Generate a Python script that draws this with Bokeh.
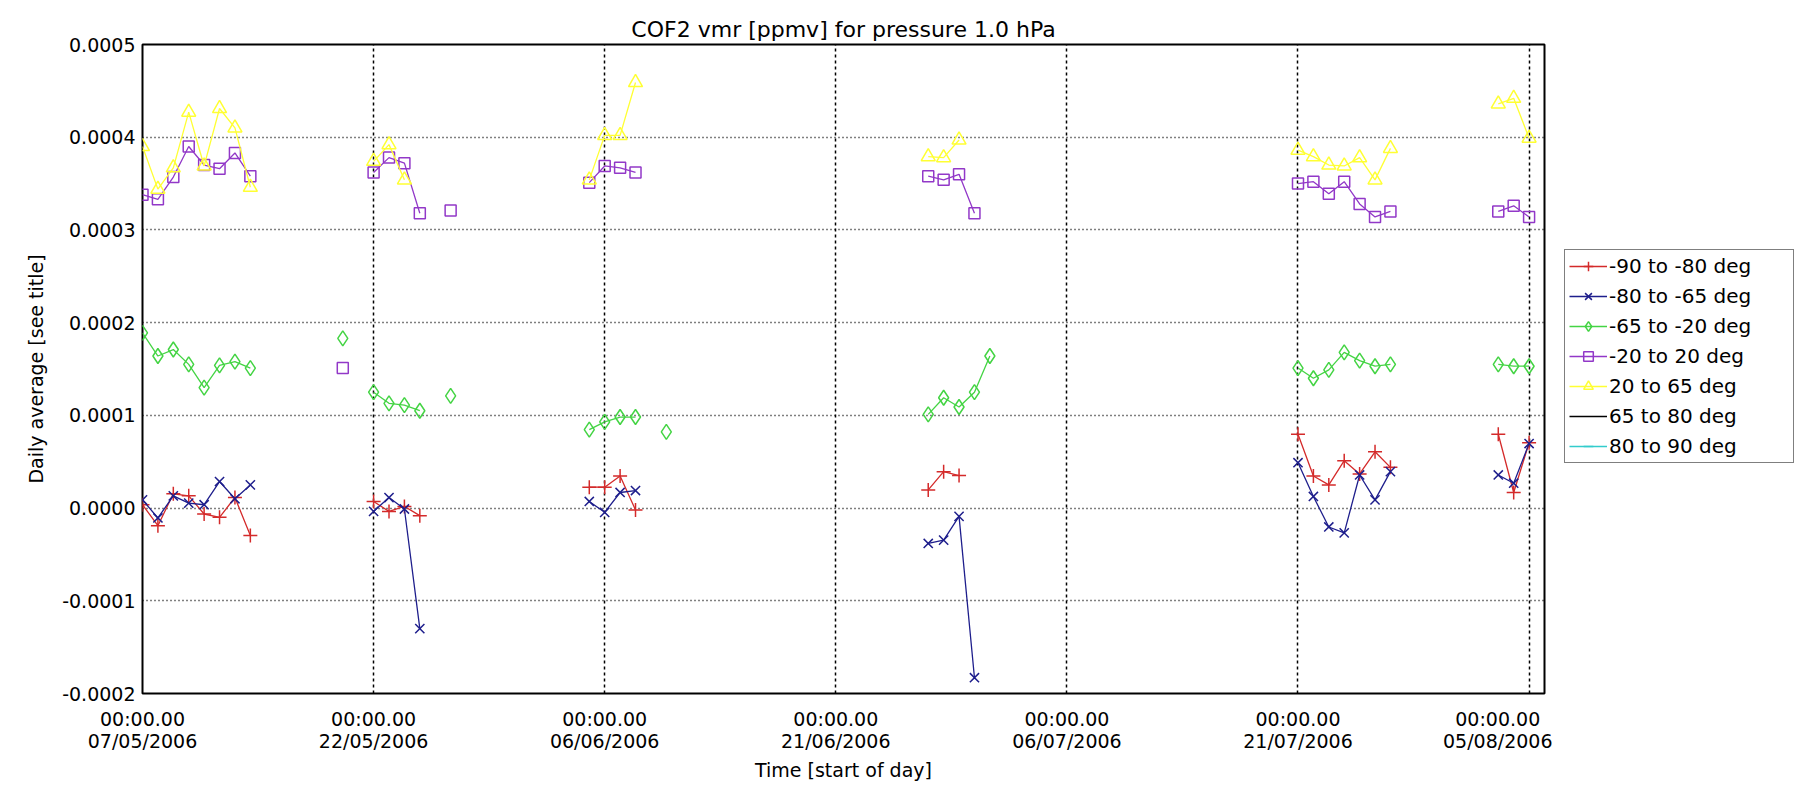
import math
import pandas as pd
from bokeh.plotting import figure
from bokeh.layouts import row
from bokeh.models import (FixedTicker, DatetimeTickFormatter, PrintfTickFormatter,
                          Legend, LegendItem, Range1d)
from bokeh.embed import file_html
from bokeh.resources import INLINE

# ---------------- data (day offsets from 07/05/2006, COF2 vmr in ppmv) ----------------
start_date = "2006-05-07"
tick_days = [0, 15, 30, 45, 60, 75, 90]
y_ticks = [-0.0002, -0.0001, 0.0, 0.0001, 0.0002, 0.0003, 0.0004, 0.0005]

red_days = [0, 1, 2, 3, 4, 5, 6, 7, 15, 16, 17, 18, 29, 30, 31, 32, 51, 52, 53,
            75, 76, 77, 78, 79, 80, 81, 88, 89, 90]
red_vals = [0.0000036, -0.000019, 0.0000154, 0.0000132, -0.0000064, -0.00001, 0.0000114, -0.0000296,
            0.0000071, -0.0000036, 0.0000018, -0.0000082,
            0.0000225, 0.0000225, 0.0000346, -0.000002,
            0.0000196, 0.0000393, 0.000035,
            0.0000796, 0.0000346, 0.000025, 0.0000511, 0.0000368, 0.0000607, 0.0000439,
            0.0000796, 0.0000168, 0.0000704]

blue_days = [0, 1, 2, 3, 4, 5, 6, 7, 15, 16, 17, 18, 29, 30, 31, 32, 51, 52, 53, 54,
             75, 76, 77, 78, 79, 80, 81, 88, 89, 90]
blue_vals = [0.0000089, -0.0000107, 0.0000132, 0.0000054, 0.0000036, 0.0000286, 0.00001, 0.000025,
             -0.0000036, 0.0000114, -0.000001, -0.00013,
             0.0000071, -0.0000046, 0.0000168, 0.0000189,
             -0.0000382, -0.0000346, -0.0000089, -0.000183,
             0.0000489, 0.0000125, -0.0000204, -0.0000268, 0.0000357, 0.0000089, 0.0000393,
             0.0000357, 0.0000268, 0.0000696]

green_days = [0, 1, 2, 3, 4, 5, 6, 7, 13, 15, 16, 17, 18, 20, 29, 30, 31, 32, 34,
              51, 52, 53, 54, 55, 75, 76, 77, 78, 79, 80, 81, 88, 89, 90]
green_vals = [0.000189, 0.000164, 0.000171, 0.000155, 0.00013, 0.000154, 0.000158, 0.000151,
              0.000183,
              0.000125, 0.000113, 0.000111, 0.000105,
              0.000121,
              0.0000846, 0.0000929, 0.0000982, 0.0000982,
              0.0000821,
              0.000101, 0.000119, 0.000109, 0.000125, 0.000164,
              0.000151, 0.00014, 0.000149, 0.000168, 0.000159, 0.000153, 0.000155,
              0.000155, 0.000153, 0.000153]

purple_days = [0, 1, 2, 3, 4, 5, 6, 7, 13, 15, 16, 17, 18, 20, 29, 30, 31, 32,
               51, 52, 53, 54, 75, 76, 77, 78, 79, 80, 81, 88, 89, 90]
purple_vals = [0.000338, 0.000333, 0.000357, 0.00039, 0.00037, 0.000366, 0.000383, 0.000358,
               0.000151,
               0.000362, 0.000378, 0.000372, 0.000318,
               0.000321,
               0.000351, 0.000369, 0.000367, 0.000362,
               0.000358, 0.000354, 0.00036, 0.000318,
               0.00035, 0.000352, 0.000339, 0.000352, 0.000328, 0.000314, 0.00032,
               0.00032, 0.000326, 0.000314]

yellow_days = [0, 1, 2, 3, 4, 5, 6, 7, 15, 16, 17, 29, 30, 31, 32, 51, 52, 53,
               75, 76, 77, 78, 79, 80, 81, 88, 89, 90]
yellow_vals = [0.00039, 0.000344, 0.000367, 0.000427, 0.000369, 0.000431, 0.00041, 0.000346,
               0.000374, 0.000392, 0.000354,
               0.000354, 0.000402, 0.000402, 0.000459,
               0.000379, 0.000378, 0.000397,
               0.000386, 0.000379, 0.00037, 0.000369, 0.000378, 0.000354, 0.000388,
               0.000436, 0.000442, 0.000399]

labels = ["-90 to -80 deg", "-80 to -65 deg", "-65 to -20 deg", "-20 to 20 deg",
          "20 to 65 deg", "65 to 80 deg", "80 to 90 deg"]

# ---------------- helpers ----------------
T0 = pd.Timestamp(start_date).value / 1e6  # ms
DAY = 86400000.0


def ms(d):
    return T0 + d * DAY


def broken(days, vals):
    xs, ys = [], []
    for i, (d, v) in enumerate(zip(days, vals)):
        if i > 0 and d - days[i - 1] > 1:
            xs.append(ms(d - 0.5))
            ys.append(math.nan)
        xs.append(ms(d))
        ys.append(v)
    return xs, ys


FONT = "DejaVu Sans"

p = figure(width=1552, height=783, x_axis_type="datetime",
           output_backend="svg", toolbar_location=None,
           x_range=Range1d(ms(0), ms(91)), y_range=Range1d(-0.0002, 0.0005),
           min_border_left=142, min_border_right=8, min_border_top=44, min_border_bottom=88,
           title="COF2 vmr [ppmv] for pressure 1.0 hPa")

p.title.align = "center"
p.title.text_font = FONT
p.title.text_font_size = "22px"
p.title.text_font_style = "normal"
p.title.text_color = "black"
p.title.standoff = 6

p.outline_line_color = "black"
p.outline_line_width = 2
p.background_fill_color = "white"
p.border_fill_color = "white"

xt = FixedTicker(ticks=[ms(d) for d in tick_days])
yt = FixedTicker(ticks=y_ticks)
p.xaxis.ticker = xt
p.yaxis.ticker = yt
fmt = "%H:%M.%S\n%d/%m/%Y"
p.xaxis.formatter = DatetimeTickFormatter(
    milliseconds=fmt, seconds=fmt, minsec=fmt, minutes=fmt, hourmin=fmt, hours=fmt,
    days=fmt, months=fmt, years=fmt)
p.yaxis.formatter = PrintfTickFormatter(format="%.4f")

for ax in (p.xaxis[0], p.yaxis[0]):
    ax.major_tick_in = 0
    ax.major_tick_out = 0
    ax.minor_tick_in = 0
    ax.minor_tick_out = 0
    ax.axis_line_color = None
    ax.major_label_text_font = FONT
    ax.major_label_text_font_size = "19px"
    ax.major_label_text_color = "black"
    ax.axis_label_text_font = FONT
    ax.axis_label_text_font_size = "19px"
    ax.axis_label_text_font_style = "normal"
    ax.axis_label_text_color = "black"

p.xaxis.major_label_standoff = 14
p.xaxis.major_label_text_line_height = 1.0
p.xaxis.axis_label = "Time [start of day]"
p.xaxis.axis_label_standoff = 4
p.yaxis.major_label_standoff = 7
p.yaxis.axis_label = "Daily average [see title]"
p.yaxis.axis_label_standoff = 12

p.xgrid.ticker = xt
p.ygrid.ticker = yt
p.xgrid.grid_line_color = "black"
p.xgrid.grid_line_dash = "3 3"
p.xgrid.grid_line_width = 1.5
p.ygrid.grid_line_color = "black"
p.ygrid.grid_line_dash = "1 3"
p.ygrid.grid_line_width = 1.5

series = [
    (red_days, red_vals, "#d42a2a", "cross", 14),
    (blue_days, blue_vals, "#1e1e8c", "x", 13),
    (green_days, green_vals, "#44d444", "diamond", 15),
    (purple_days, purple_vals, "#9238c8", "square", 11),
    (yellow_days, yellow_vals, "#ffff33", "triangle", 14),
]

# ---------------- legend panel (separate figure to the right of the frame) ----------------
# its frame is aligned with the main plot's frame by the row layout
lg = figure(width=242, height=783, output_backend="svg", toolbar_location=None,
            x_range=Range1d(0, 1), y_range=Range1d(0, 1),
            x_axis_location=None, y_axis_location=None,
            min_border_left=0, min_border_right=0, min_border_top=0, min_border_bottom=0)
lg.grid.visible = False
lg.outline_line_color = None
lg.background_fill_color = "white"
lg.border_fill_color = "white"

items = []
for (days, vals, col, mk, sz), lab in zip(series, labels):
    xs, ys = broken(days, vals)
    p.line(xs, ys, line_color=col, line_width=1.3)
    p.scatter([ms(d) for d in days], vals, marker=mk, size=sz,
              line_color=col, fill_color=None, line_width=1.5)
    # legend proxies (kept outside the legend panel's visible range)
    lr = lg.line([5, 6], [5, 6], line_color=col, line_width=1.3)
    sr = lg.scatter([5], [5], marker=mk, size=sz, line_color=col, fill_color=None, line_width=1.5)
    items.append(LegendItem(label=lab, renderers=[lr, sr]))

lb = lg.line([5, 6], [5, 6], line_color="black", line_width=1.3)
items.append(LegendItem(label=labels[5], renderers=[lb]))
lc = lg.line([5, 6], [5, 6], line_color="#33cccc", line_width=1.3)
sc = lg.scatter([5], [5], marker="dash", angle=math.pi / 2, size=14,
                line_color="#33cccc", line_width=1.5)
items.append(LegendItem(label=labels[6], renderers=[lc, sc]))

legend = Legend(items=items, location=(12, 230), orientation="vertical")
legend.margin = 0
legend.padding = 4
legend.spacing = 6
legend.glyph_width = 38
legend.glyph_height = 24
legend.label_height = 24
legend.label_width = 180
legend.label_standoff = 2
legend.label_text_font = FONT
legend.label_text_font_size = "20px"
legend.label_text_color = "black"
legend.border_line_color = "black"
legend.border_line_width = 1.5
legend.background_fill_color = "white"
legend.background_fill_alpha = 1.0
lg.add_layout(legend, "center")

layout = row(p, lg)
open("out.html", "w").write(file_html(layout, INLINE))
